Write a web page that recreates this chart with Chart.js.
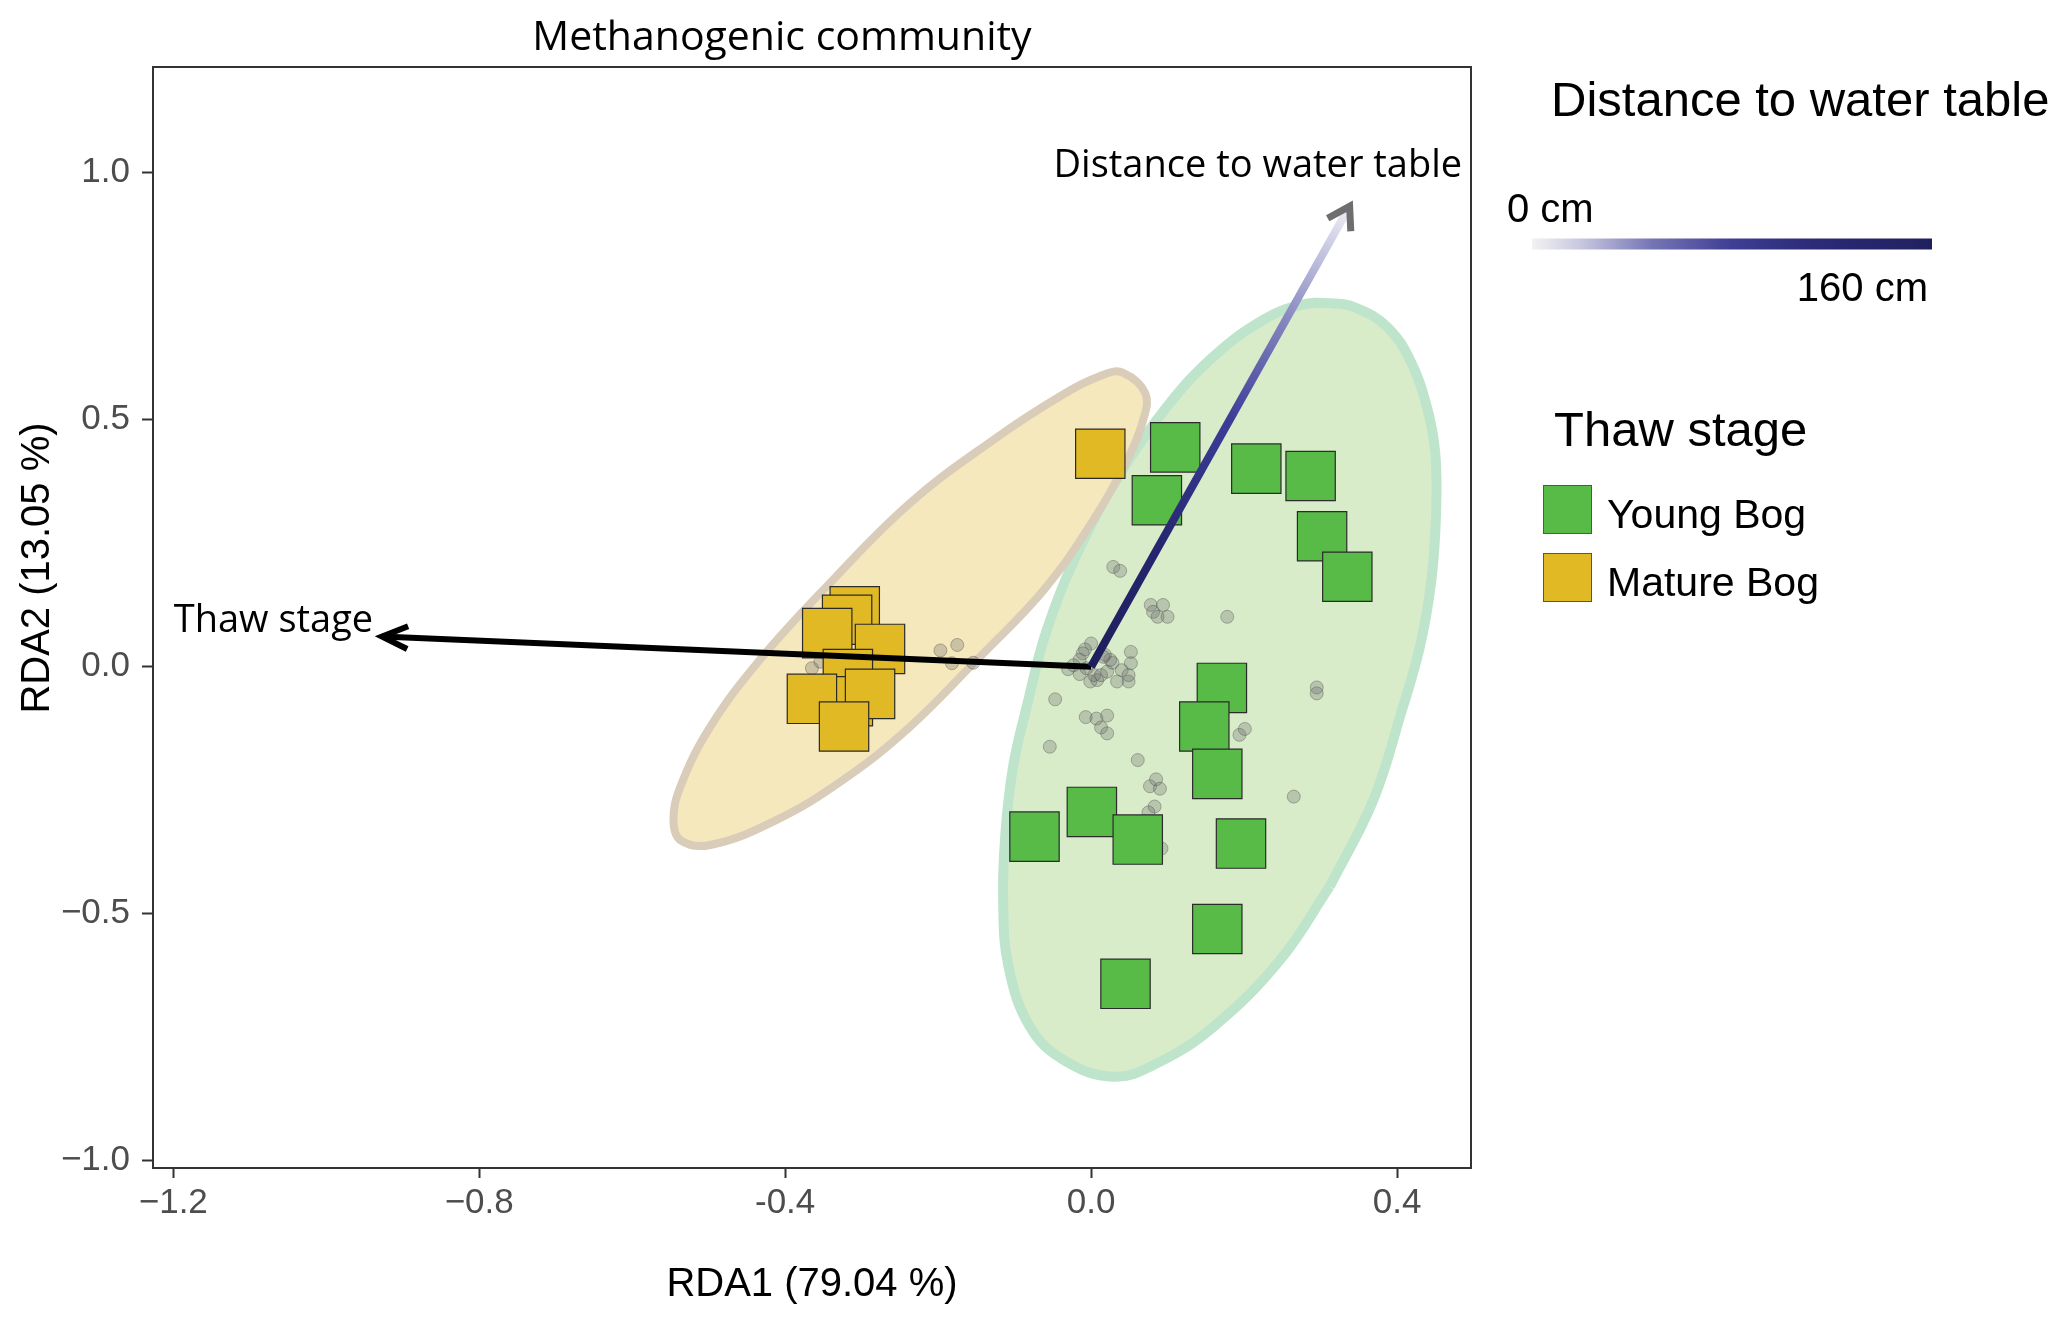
<!DOCTYPE html>
<html>
<head>
<meta charset="utf-8">
<title>Methanogenic community</title>
<script src="https://cdn.jsdelivr.net/npm/chart.js@4.4.1/dist/chart.umd.min.js"></script>
<style>
  html, body { margin: 0; padding: 0; background: #ffffff; }
  #wrap { width: 2067px; height: 1321px; }
</style>
</head>
<body>
<div id="wrap"><canvas id="rdaChart" width="2067" height="1321"></canvas></div>
<script>
// site scores, Young Bog
const youngBogX = [0.110, 0.216, 0.287, 0.086, 0.302, 0.335, 0.171, 0.148, 0.165, 0.001, -0.074, 0.061, 0.196, 0.165, 0.045];
const youngBogY = [0.444, 0.401, 0.386, 0.337, 0.264, 0.182, -0.043, -0.121, -0.217, -0.294, -0.344, -0.350, -0.358, -0.531, -0.642];

// site scores, Mature Bog
const matureBogX = [0.012, -0.309, -0.319, -0.345, -0.276, -0.318, -0.318, -0.289, -0.365, -0.323];
const matureBogY = [0.431, 0.112, 0.095, 0.068, 0.036, -0.015, -0.070, -0.055, -0.065, -0.121];

// species scores (grey dots)
const speciesX = [-0.365, -0.354, -0.197, -0.175, -0.182, -0.154, 0.029, 0.038, 0.078, 0.094,
  0.081, 0.087, 0.100, 0.178, 0.295, 0.295, -0.047, 0.000, -0.008, -0.011,
  -0.015, -0.030, -0.015, -0.001, 0.008, 0.004, 0.013, 0.021, 0.028, 0.025,
  0.018, -0.006, 0.052, 0.052, 0.040, 0.049, 0.034, 0.049, -0.007, 0.007,
  0.021, 0.013, 0.021, -0.054, 0.061, 0.077, 0.085, 0.090, 0.083, 0.075,
  0.092, 0.194, 0.201, 0.265, -0.023, 0.016];
const speciesY = [-0.003, 0.010, 0.033, 0.044, 0.007, 0.008, 0.202, 0.194, 0.125, 0.125,
  0.111, 0.101, 0.101, 0.101, -0.042, -0.054, -0.066, 0.047, 0.035, 0.027,
  0.014, -0.005, -0.015, -0.030, -0.027, -0.017, -0.017, -0.010, 0.008, 0.014,
  0.024, -0.003, 0.030, 0.007, -0.007, -0.030, -0.030, -0.017, -0.102, -0.105,
  -0.099, -0.123, -0.135, -0.162, -0.189, -0.242, -0.228, -0.247, -0.283, -0.295,
  -0.368, -0.138, -0.126, -0.263, 0.003, 0.020];

// 95 % ellipse outlines
const youngEllipseX = [0.312, 0.247, 0.160, 0.086, 0.029, -0.036, -0.080, -0.108, -0.115, -0.112, -0.102, -0.084, -0.058, -0.014, 0.038, 0.099, 0.160, 0.225, 0.273, 0.312, 0.347, 0.387, 0.417, 0.439, 0.450, 0.451, 0.445, 0.430, 0.406, 0.369, 0.312];
const youngEllipseY = [-0.445, -0.594, -0.729, -0.803, -0.830, -0.796, -0.729, -0.607, -0.472, -0.337, -0.202, -0.080, 0.074, 0.243, 0.391, 0.526, 0.628, 0.702, 0.732, 0.736, 0.726, 0.688, 0.621, 0.526, 0.432, 0.311, 0.176, 0.041, -0.090, -0.270, -0.445];
const matureEllipseX = [-0.149, -0.237, -0.324, -0.411, -0.498, -0.537, -0.546, -0.537, -0.498, -0.433, -0.346, -0.237, -0.128, -0.041, 0.016, 0.042, 0.071, 0.068, 0.047, 0.003, -0.062, -0.149];
const matureEllipseY = [0.014, -0.122, -0.229, -0.310, -0.361, -0.351, -0.310, -0.243, -0.122, 0.014, 0.162, 0.331, 0.459, 0.547, 0.591, 0.595, 0.553, 0.499, 0.418, 0.297, 0.155, 0.014];

// environmental vectors
const arrowNames = ['Thaw stage', 'Distance to water table'];
const arrowX = [-0.927, 0.338];
const arrowY = [0.061, 0.932];

// axes
const xTickValues = [-1.2, -0.8, -0.4, 0, 0.4];
const xTickLabels = ['\u22121.2', '\u22120.8', '-0.4', '0.0', '0.4'];
const yTickValues = [-1, -0.5, 0, 0.5, 1];
const yTickLabels = ['\u22121.0', '\u22120.5', '0.0', '0.5', '1.0'];

// legends
const thawStages = ['Young Bog', 'Mature Bog'];
const distanceRange = ['0 cm', '160 cm'];

const GREEN = '#58bb48';
const GOLD = '#e0b924';
const SANS = '"Liberation Sans", Arial, sans-serif';
const HUMAN = '"Open Sans", sans-serif';

function toPoints(xs, ys) {
    return xs.map((x, i) => ({ x: x, y: ys[i] }));
}

// label anchors (data units) for the vector names
const arrowLabelAt = [{ x: -1.069, y: 0.071 }, { x: 0.218, y: 0.992 }];

function distanceGradient(c) {
    const chart = c.chart;
    const xs = chart.scales.x, ys = chart.scales.y;
    if (!xs || !ys || !chart.chartArea) return '#262670';
    const g = chart.ctx.createLinearGradient(
        xs.getPixelForValue(0), ys.getPixelForValue(0),
        xs.getPixelForValue(arrowX[1]), ys.getPixelForValue(arrowY[1]));
    g.addColorStop(0, '#1e1e5c');
    g.addColorStop(0.26, '#262670');
    g.addColorStop(0.54, '#3d3d99');
    g.addColorStop(0.75, '#8585c0');
    g.addColorStop(1, '#f0f0f6');
    return g;
}

// arrow heads, vector names, titles and the two legends
const decorations = {
    id: 'decorations',
    afterDatasetsDraw(chart) {
        const c = chart.ctx;
        const xs = chart.scales.x, ys = chart.scales.y;
        const heads = [
            { color: '#000000', width: 6, len: 28, ang: 24 },
            { color: '#6e6e6e', width: 7, len: 25, ang: 32 }
        ];
        c.save();
        arrowX.forEach((ax, i) => {
            const x0 = xs.getPixelForValue(0), y0 = ys.getPixelForValue(0);
            const x1 = xs.getPixelForValue(ax), y1 = ys.getPixelForValue(arrowY[i]);
            const back = Math.atan2(y0 - y1, x0 - x1);
            const h = heads[i];
            const a = h.ang * Math.PI / 180;
            c.beginPath();
            c.moveTo(x1 + h.len * Math.cos(back + a), y1 + h.len * Math.sin(back + a));
            c.lineTo(x1, y1);
            c.lineTo(x1 + h.len * Math.cos(back - a), y1 + h.len * Math.sin(back - a));
            c.strokeStyle = h.color;
            c.lineWidth = h.width;
            c.lineJoin = 'miter';
            c.lineCap = 'butt';
            c.stroke();
        });
        c.fillStyle = '#000000';
        c.font = '38px ' + HUMAN;
        c.textAlign = 'center';
        c.textBaseline = 'alphabetic';
        arrowNames.forEach((name, i) => {
            c.fillText(name, xs.getPixelForValue(arrowLabelAt[i].x), ys.getPixelForValue(arrowLabelAt[i].y));
        });
        c.restore();
    },
    afterDraw(chart) {
        const c = chart.ctx;
        const area = chart.chartArea;
        c.save();
        // panel border
        c.strokeStyle = '#333333';
        c.lineWidth = 2;
        c.strokeRect(area.left, area.top, area.right - area.left, area.bottom - area.top);

        // title
        c.fillStyle = '#000000';
        c.font = '41px ' + HUMAN;
        c.textAlign = 'center';
        c.textBaseline = 'alphabetic';
        c.fillText('Methanogenic community', 782, 50);

        // y axis title
        c.save();
        c.translate(49, 568);
        c.rotate(-Math.PI / 2);
        c.font = '40px ' + SANS;
        c.textAlign = 'center';
        c.fillText('RDA2 (13.05 %)', 0, 0);
        c.restore();

        // colour bar legend
        c.textAlign = 'left';
        c.font = '49px ' + SANS;
        c.fillText('Distance to water table', 1551, 116);
        c.font = '40px ' + SANS;
        c.fillText(distanceRange[0], 1507, 222);
        const bar = c.createLinearGradient(1532, 0, 1932, 0);
        bar.addColorStop(0, '#f2f2f2');
        bar.addColorStop(0.12, '#c8c8e0');
        bar.addColorStop(0.3, '#7575b5');
        bar.addColorStop(0.5, '#3e3e94');
        bar.addColorStop(0.7, '#2b2b78');
        bar.addColorStop(1, '#202060');
        c.fillStyle = bar;
        c.fillRect(1532, 238.5, 400, 11);
        c.fillStyle = '#000000';
        c.textAlign = 'right';
        c.fillText(distanceRange[1], 1928, 301);

        // thaw stage legend
        c.textAlign = 'left';
        c.font = '49px ' + SANS;
        c.fillText('Thaw stage', 1554, 446);
        const keyColors = [GREEN, GOLD];
        const keyTops = [485, 553];
        thawStages.forEach((name, i) => {
            c.fillStyle = keyColors[i];
            c.fillRect(1543, keyTops[i], 49, 49);
            c.strokeStyle = '#555555';
            c.lineWidth = 1;
            c.strokeRect(1543.5, keyTops[i] + 0.5, 48, 48);
            c.fillStyle = '#000000';
            c.font = '41px ' + SANS;
            c.fillText(name, 1607, keyTops[i] + 43);
        });
        c.restore();
    }
};

const ctx = document.getElementById('rdaChart').getContext('2d');
const rdaChart = new Chart(ctx, {
    type: 'scatter',
    data: {
        datasets: [
            {
                label: 'Young Bog ellipse',
                data: toPoints(youngEllipseX, youngEllipseY),
                showLine: true,
                fill: 'shape',
                tension: 0.4,
                backgroundColor: '#d8ecc9',
                borderColor: '#bee4cc',
                borderWidth: 10,
                pointRadius: 0,
                order: 10
            },
            {
                label: 'Mature Bog ellipse',
                data: toPoints(matureEllipseX, matureEllipseY),
                showLine: true,
                fill: 'shape',
                tension: 0.4,
                backgroundColor: '#f5e8bc',
                borderColor: '#d9ccb9',
                borderWidth: 8,
                pointRadius: 0,
                order: 9
            },
            {
                label: 'Species',
                data: toPoints(speciesX, speciesY),
                pointRadius: 6.5,
                pointBackgroundColor: 'rgba(115, 115, 115, 0.32)',
                pointBorderColor: 'rgba(70, 70, 70, 0.38)',
                pointBorderWidth: 1,
                order: 8
            },
            {
                label: thawStages[0],
                data: toPoints(youngBogX, youngBogY),
                pointStyle: 'rect',
                pointRadius: 34.9,
                pointBackgroundColor: GREEN,
                pointBorderColor: '#2b2b2b',
                pointBorderWidth: 1.2,
                order: 7
            },
            {
                label: thawStages[1],
                data: toPoints(matureBogX, matureBogY),
                pointStyle: 'rect',
                pointRadius: 34.9,
                pointBackgroundColor: GOLD,
                pointBorderColor: '#2b2b2b',
                pointBorderWidth: 1.2,
                order: 6
            },
            {
                label: arrowNames[0],
                data: [{ x: 0, y: 0 }, { x: arrowX[0], y: arrowY[0] }],
                showLine: true,
                borderColor: '#000000',
                borderWidth: 6,
                pointRadius: 0,
                order: 2
            },
            {
                label: arrowNames[1],
                data: [{ x: 0, y: 0 }, { x: arrowX[1], y: arrowY[1] }],
                showLine: true,
                borderColor: distanceGradient,
                borderWidth: 8,
                pointRadius: 0,
                order: 1
            }
        ]
    },
    options: {
        responsive: false,
        devicePixelRatio: 1,
        animation: false,
        layout: { padding: { left: 0, top: 67, right: 596, bottom: 0 } },
        plugins: {
            legend: { display: false },
            tooltip: { enabled: false },
            title: { display: false }
        },
        scales: {
            x: {
                type: 'linear',
                position: 'bottom',
                min: -1.2265,
                max: 0.4967,
                afterBuildTicks: s => { s.ticks = xTickValues.map(v => ({ value: v })); },
                afterFit: s => { s.height = 153; },
                ticks: {
                    callback: (v, i) => xTickLabels[i],
                    font: { family: SANS, size: 35 },
                    color: '#4d4d4d',
                    padding: 4,
                    maxRotation: 0,
                    autoSkip: false
                },
                grid: { drawOnChartArea: false, drawTicks: true, tickLength: 10, tickColor: '#333333', tickWidth: 2 },
                border: { display: true, color: '#333333', width: 2 },
                title: {
                    display: true,
                    text: 'RDA1 (79.04 %)',
                    color: '#000000',
                    font: { family: SANS, size: 40 },
                    padding: { top: 0, bottom: 12 }
                }
            },
            y: {
                type: 'linear',
                min: -1.0148,
                max: 1.214,
                afterBuildTicks: s => { s.ticks = yTickValues.map(v => ({ value: v })); },
                afterFit: s => { s.width = 153; },
                ticks: {
                    callback: (v, i) => yTickLabels[i],
                    font: { family: SANS, size: 35 },
                    color: '#4d4d4d',
                    padding: 12,
                    autoSkip: false
                },
                grid: { drawOnChartArea: false, drawTicks: true, tickLength: 11, tickColor: '#333333', tickWidth: 2 },
                border: { display: true, color: '#333333', width: 2 }
            }
        }
    },
    plugins: [decorations]
});
</script>
</body>
</html>
